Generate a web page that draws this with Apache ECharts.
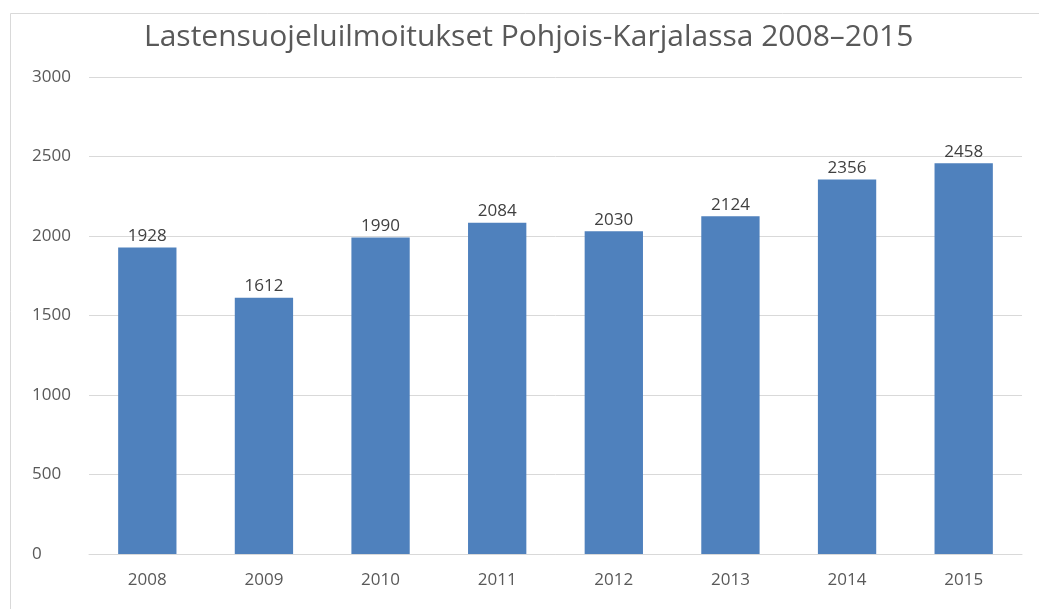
<!DOCTYPE html>
<html>
<head>
<meta charset="utf-8">
<script src="https://cdn.jsdelivr.net/npm/echarts@6/dist/echarts.min.js"></script>
<style>html,body{margin:0;padding:0;background:#fff;}#c{width:1039px;height:609px;}</style>
</head>
<body>
<div id="c"></div>
<script>
const titleText = 'Lastensuojeluilmoitukset Pohjois-Karjalassa 2008\u20132015';
const years = ['2008','2009','2010','2011','2012','2013','2014','2015'];
const notifications = [1928, 1612, 1990, 2084, 2030, 2124, 2356, 2458];
const yTicks = { min: 0, max: 3000, interval: 500 };

const chart = echarts.init(document.getElementById('c'), null, {renderer: 'canvas'});
chart.setOption({
  backgroundColor: '#ffffff',
  animation: false,
  graphic: [{
    type: 'rect', left: 8, top: 11,
    shape: {x: 0, y: 0, width: 1100, height: 700},
    style: {fill: 'none', stroke: '#D9D9D9', lineWidth: 1}, silent: true, z: -1
  }],
  title: {
    text: titleText, left: 139, top: 17,
    textStyle: {fontFamily: 'Open Sans', fontWeight: 'normal', fontSize: 30, color: '#595959'}
  },
  grid: {left: 89, right: 17, top: 77, bottom: 55, containLabel: false},
  xAxis: {
    type: 'category', data: years,
    axisLine: {lineStyle: {color: '#D9D9D9', width: 1}},
    axisTick: {show: false},
    axisLabel: {color: '#595959', fontSize: 17, fontFamily: 'Open Sans', margin: 18}
  },
  yAxis: {
    type: 'value', min: yTicks.min, max: yTicks.max, interval: yTicks.interval,
    axisLine: {show: false}, axisTick: {show: false},
    splitLine: {lineStyle: {color: '#D9D9D9', width: 1}},
    axisLabel: {color: '#595959', fontSize: 17, fontFamily: 'Open Sans', align: 'left', margin: 57,
      formatter: function (v) { return String(v); }}
  },
  series: [{
    type: 'bar', data: notifications, barCategoryGap: '50%',
    itemStyle: {color: '#4F81BD'},
    label: {show: true, position: 'top', distance: 3, color: '#404040', fontSize: 17, fontFamily: 'Open Sans'}
  }]
});
</script>
</body>
</html>
